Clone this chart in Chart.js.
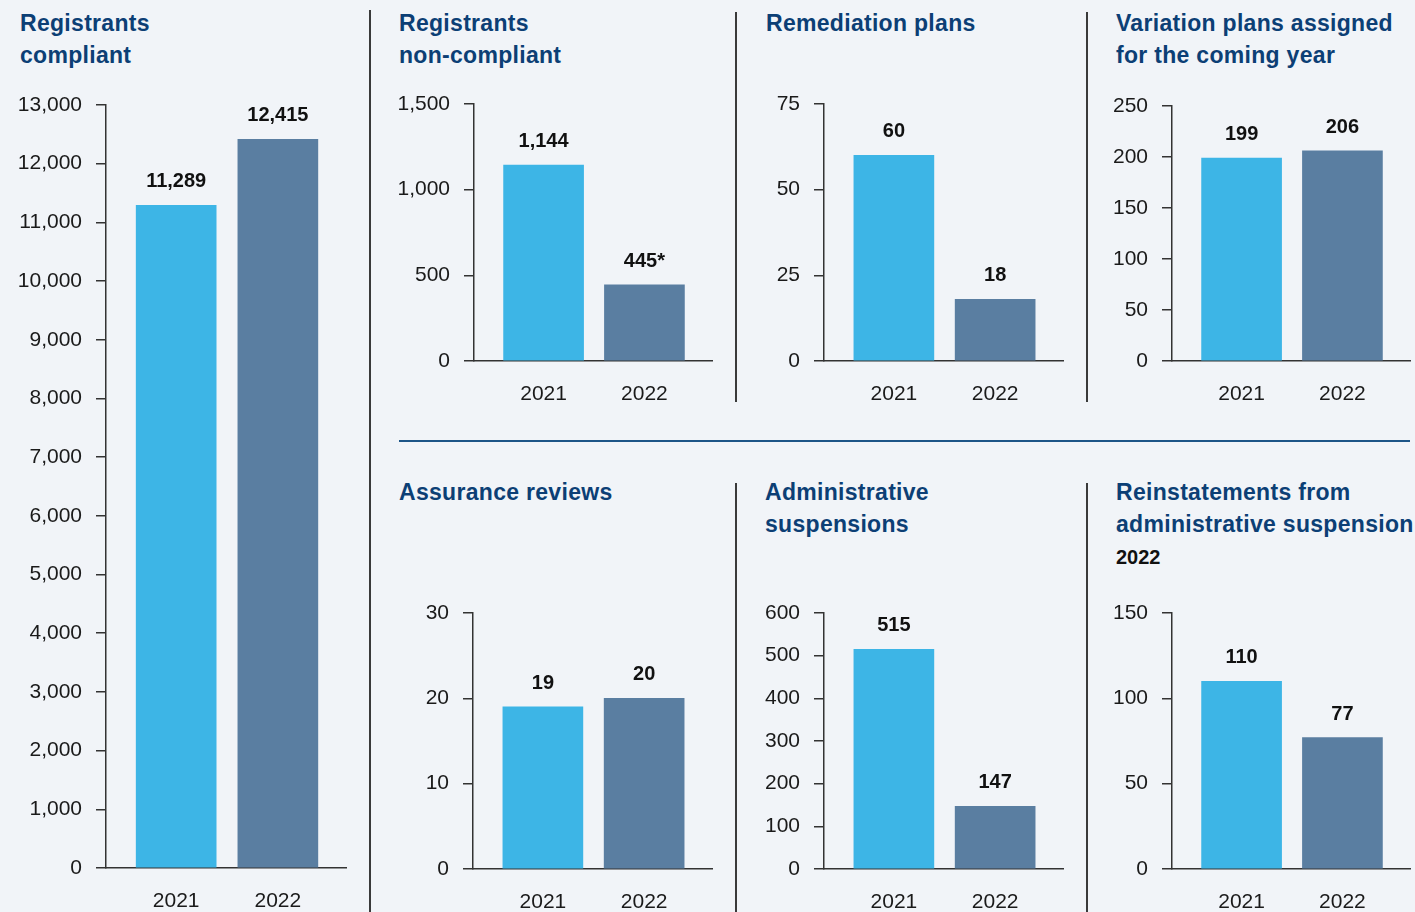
<!DOCTYPE html>
<html>
<head>
<meta charset="utf-8">
<script src="https://cdn.jsdelivr.net/npm/chart.js@4"></script>
<style>
  body { margin: 0; background: #f1f4f8; width: 1415px; height: 912px; overflow: hidden; position: relative;
         font-family: "Liberation Sans", Arial, sans-serif; }
  .title { position: absolute; color: #0c3f75; font-weight: bold; font-size: 23px; line-height: 32px;
           letter-spacing: 0.3px; white-space: nowrap; }
  .title .sub { color: #111; font-size: 20px; letter-spacing: 0; }
  .box { position: absolute; }
  .vline { position: absolute; width: 2px; background: #3a3a3a; }
  .hline { position: absolute; height: 2px; background: #1d5587; }
</style>
</head>
<body>

<div class="title" style="left:20px; top:7px;">Registrants<br>compliant</div>
<div class="title" style="left:399px; top:7px;">Registrants<br>non-compliant</div>
<div class="title" style="left:766px; top:7px;">Remediation plans</div>
<div class="title" style="left:1116px; top:7px;">Variation plans assigned<br>for the coming year</div>
<div class="title" style="left:399px; top:476px;">Assurance reviews</div>
<div class="title" style="left:765px; top:476px;">Administrative<br>suspensions</div>
<div class="title" style="left:1116px; top:476px;">Reinstatements from<br>administrative suspension<br><span class="sub">2022</span></div>

<div class="vline" style="left:369px; top:10px; height:902px;"></div>
<div class="vline" style="left:735px; top:12px; height:390px;"></div>
<div class="vline" style="left:1086px; top:12px; height:390px;"></div>
<div class="vline" style="left:735px; top:483px; height:429px;"></div>
<div class="vline" style="left:1086px; top:483px; height:429px;"></div>
<div class="hline" style="left:399px; top:440px; width:1011px;"></div>

<div class="box" id="b1"><canvas id="c1"></canvas></div>
<div class="box" id="b2"><canvas id="c2"></canvas></div>
<div class="box" id="b3"><canvas id="c3"></canvas></div>
<div class="box" id="b4"><canvas id="c4"></canvas></div>
<div class="box" id="b5"><canvas id="c5"></canvas></div>
<div class="box" id="b6"><canvas id="c6"></canvas></div>
<div class="box" id="b7"><canvas id="c7"></canvas></div>

<script>
// data
const years = [2021, 2022];
const compliant = [11289, 12415];
const nonCompliant = [1144, 445];
const nonCompliantNotes = ['', '*'];
const remediationPlans = [60, 18];
const variationPlans = [199, 206];
const assuranceReviews = [19, 20];
const adminSuspensions = [515, 147];
const reinstatements = [110, 77];

const barColors = ['#3db5e6', '#5a7ea1'];
const axisColor = '#333';
const fontFamily = '"Liberation Sans", Arial, sans-serif';

Chart.defaults.font.family = fontFamily;

// value above each bar
const valueLabels = {
    id: 'valueLabels',
    afterDatasetsDraw(chart, args, opts) {
        const ctx = chart.ctx;
        const notes = opts.notes || [];
        const ds = chart.data.datasets[0];
        chart.getDatasetMeta(0).data.forEach(function(bar, i) {
            ctx.save();
            ctx.font = 'bold 20px ' + fontFamily;
            ctx.fillStyle = '#111';
            ctx.textAlign = 'center';
            ctx.textBaseline = 'alphabetic';
            ctx.fillText(ds.data[i].y.toLocaleString('en-US') + (notes[i] || ''), bar.x, bar.y - 18);
            ctx.restore();
        });
    }
};

const Y_W = 100, PAD_T = 28, PAD_R = 6, X_H = 44;

function grafico(id, values, max, step, area, notes) {
    const box = document.getElementById('b' + id);
    box.style.left = (area.l - Y_W) + 'px';
    box.style.top = (area.t - PAD_T) + 'px';
    box.style.width = (Y_W + area.r - area.l + PAD_R) + 'px';
    box.style.height = (PAD_T + area.b - area.t + X_H) + 'px';

    new Chart(document.getElementById('c' + id), {
        type: 'bar',
        data: {
            datasets: [{
                data: years.map(function(y, i) { return { x: y, y: values[i] }; }),
                backgroundColor: barColors,
                barThickness: 80,
                borderWidth: 0
            }]
        },
        options: {
            responsive: true,
            maintainAspectRatio: false,
            animation: false,
            layout: { padding: { top: PAD_T, right: PAD_R, left: 0, bottom: 0 } },
            plugins: {
                legend: { display: false },
                tooltip: { enabled: false },
                valueLabels: { notes: notes }
            },
            scales: {
                x: {
                    type: 'linear',
                    offset: false,
                    min: 2020.31,
                    max: 2022.67,
                    z: 1,
                    grid: { display: false, drawTicks: false, offset: false },
                    border: { display: true, color: axisColor, width: 1.5 },
                    afterBuildTicks: function(axis) {
                        axis.ticks = years.map(function(v) { return { value: v }; });
                    },
                    afterFit: function(axis) { axis.height = X_H; },
                    ticks: {
                        padding: 21,
                        color: '#1a1a1a',
                        font: { size: 21 },
                        maxRotation: 0,
                        callback: function(v) { return String(v); }
                    }
                },
                y: {
                    min: 0,
                    max: max,
                    afterFit: function(axis) { axis.width = Y_W; },
                    grid: { drawOnChartArea: false, drawTicks: true, tickLength: 10, color: axisColor, lineWidth: 1.5 },
                    border: { display: true, color: axisColor, width: 1.5 },
                    ticks: {
                        stepSize: step,
                        padding: 14,
                        color: '#1a1a1a',
                        font: { size: 21 }
                    }
                }
            }
        },
        plugins: [valueLabels]
    });
}

grafico(1, compliant, 13000, 1000, { l: 106, r: 346, t: 105, b: 868 });
grafico(2, nonCompliant, 1500, 500, { l: 474, r: 712, t: 104, b: 361 }, nonCompliantNotes);
grafico(3, remediationPlans, 75, 25, { l: 824, r: 1063, t: 104, b: 361 });
grafico(4, variationPlans, 250, 50, { l: 1172, r: 1410, t: 106, b: 361 });
grafico(5, assuranceReviews, 30, 10, { l: 473, r: 712, t: 613, b: 869 });
grafico(6, adminSuspensions, 600, 100, { l: 824, r: 1063, t: 613, b: 869 });
grafico(7, reinstatements, 150, 50, { l: 1172, r: 1410, t: 613, b: 869 });
</script>
</body>
</html>
